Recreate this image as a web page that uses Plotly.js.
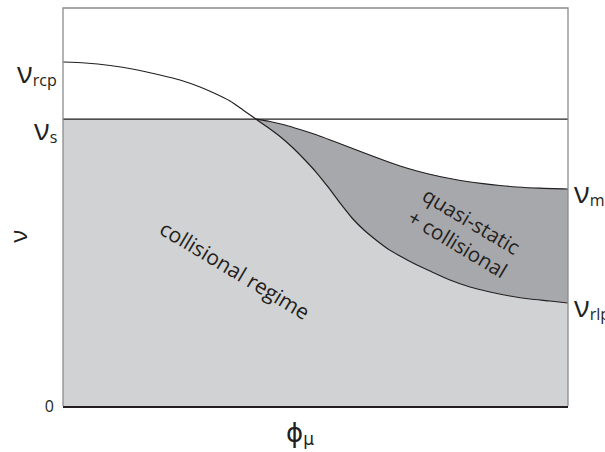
<!DOCTYPE html>
<html>
<head>
<meta charset="utf-8">
<script src="https://cdn.plot.ly/plotly-3.0.1.min.js"></script>
<style>html,body{margin:0;padding:0;background:#fff;}#chart{width:605px;height:452px;}</style>
</head>
<body>
<div id="chart"></div>
<script>
// ---- data (phi_mu in 0..100, nu in 0..100 arbitrary units) ----
const nuS = 72.1;            // nu_s level
const crossX = 38.2;         // where the upper curve meets nu_s

// curve from nu_rcp (left) down to nu_rlp (right)
const rcpX = [0, 4.36, 9.31, 14.26, 19.21, 23.17, 27.13, 30.10, 33.07, 35.64, 38.2, 40.59, 42.97, 45.35, 47.72, 50.10, 52.48, 54.85, 57.23, 59.60, 61.98, 64.36, 66.73, 69.70, 72.67, 76.63, 80.59, 84.55, 88.51, 92.48, 96.44, 100];
const rcpY = [86.43, 86.18, 85.55, 84.55, 83.17, 81.91, 80.15, 78.52, 76.63, 74.37, 72.1, 69.97, 67.71, 65.08, 62.06, 58.79, 55.03, 51.01, 47.24, 44.22, 41.71, 39.45, 37.69, 35.68, 33.92, 31.66, 29.90, 28.64, 27.64, 26.88, 26.38, 25.88];

// curve from nu_s (crossing) to nu_m (right)
const mX = [38.2, 40.99, 43.96, 46.93, 50.30, 53.47, 56.83, 60.20, 63.37, 66.73, 70.10, 73.27, 76.63, 80.00, 83.17, 86.53, 89.90, 94.46, 100];
const mY = [72.1, 71.48, 70.60, 69.47, 68.09, 66.58, 64.95, 63.32, 61.81, 60.30, 59.05, 58.04, 57.16, 56.41, 55.86, 55.40, 55.03, 54.72, 54.52];

const tickVals = [0];
const tickText = ['0'];

// ---- build derived arrays ----
const lightX = [0, crossX], lightY = [nuS, nuS];
rcpX.forEach((x, i) => { if (x > crossX) { lightX.push(x); lightY.push(rcpY[i]); } });

const darkX = mX.slice(), darkY = mY.slice();
for (let i = rcpX.length - 1; i >= 0; i--) {
  if (rcpX[i] >= crossX) { darkX.push(rcpX[i]); darkY.push(rcpY[i]); }
}

const lightGray = '#d1d2d4';
const darkGray = '#a7a8ab';
const ink = '#231f20';
const FONT = 'Open Sans, DejaVu Sans, sans-serif';

const traces = [
  {x: lightX, y: lightY, type: 'scatter', mode: 'lines', fill: 'tozeroy', fillcolor: lightGray,
   line: {width: 0}, hoverinfo: 'skip'},
  {x: darkX, y: darkY, type: 'scatter', mode: 'lines', fill: 'toself', fillcolor: darkGray,
   line: {width: 0}, hoverinfo: 'skip'},
  {x: [0, 100], y: [nuS, nuS], type: 'scatter', mode: 'lines', line: {color: ink, width: 1.2}, hoverinfo: 'skip'},
  {x: rcpX, y: rcpY, type: 'scatter', mode: 'lines', line: {color: ink, width: 1.2, shape: 'spline', smoothing: 0.6}, hoverinfo: 'skip'},
  {x: mX, y: mY, type: 'scatter', mode: 'lines', line: {color: ink, width: 1.2, shape: 'spline', smoothing: 0.6}, hoverinfo: 'skip'}
];

const nuSize = 29, subSize = 16;
function nuLabel(sub) {
  return '<span style="font-size:' + nuSize + 'px">ν</span><sub><span style="font-size:' + subSize + 'px">' + sub + '</span></sub>';
}

const annotations = [
  {xref: 'paper', yref: 'y', x: 0, y: rcpY[0], xanchor: 'right', yanchor: 'middle', xshift: -4, yshift: -9,
   text: nuLabel('rcp'), showarrow: false, font: {family: FONT, color: ink}},
  {xref: 'paper', yref: 'y', x: 0, y: nuS, xanchor: 'right', yanchor: 'middle', xshift: -4, yshift: -9,
   text: nuLabel('s'), showarrow: false, font: {family: FONT, color: ink}},
  {xref: 'paper', yref: 'y', x: 1, y: mY[mY.length - 1], xanchor: 'left', yanchor: 'middle', xshift: 4, yshift: -2,
   text: nuLabel('m'), showarrow: false, font: {family: FONT, color: ink}},
  {xref: 'paper', yref: 'y', x: 1, y: rcpY[rcpY.length - 1], xanchor: 'left', yanchor: 'middle', xshift: 4, yshift: -2,
   text: nuLabel('rlp'), showarrow: false, font: {family: FONT, color: ink}},
  {xref: 'x', yref: 'y', x: 34.1, y: 34.2, text: 'collisional regime', textangle: 31, showarrow: false,
   font: {family: FONT, size: 21, color: ink}},
  {xref: 'x', yref: 'y', x: 79.6, y: 43.6, text: 'quasi-static<br>+ collisional', textangle: 31, showarrow: false,
   font: {family: FONT, size: 20.5, color: ink}},
  // axis titles
  {xref: 'paper', yref: 'y', x: 0, y: 42.5, xanchor: 'center', yanchor: 'middle', xshift: -45,
   text: 'ν', textangle: -90, showarrow: false, font: {family: FONT, size: 24, color: ink}},
  {xref: 'paper', yref: 'paper', x: 0.47, y: 0, xanchor: 'center', yanchor: 'top', yshift: -10,
   text: '<span style="font-size:26px">ϕ</span><sub><span style="font-size:17px">μ</span></sub>', showarrow: false,
   font: {family: 'DejaVu Sans, sans-serif', color: ink}}
];

const layout = {
  width: 605, height: 452,
  margin: {l: 63, r: 37, t: 8, b: 46, pad: 0},
  paper_bgcolor: '#fff', plot_bgcolor: '#fff',
  showlegend: false,
  font: {family: FONT, color: ink},
  xaxis: {range: [0, 100], showgrid: false, zeroline: false, showticklabels: false, ticks: '',
          showline: true, linecolor: ink, linewidth: 1.5, mirror: false},
  yaxis: {range: [0, 100], showgrid: false, zeroline: false, ticks: '',
          tickvals: tickVals, ticktext: tickText, tickfont: {family: FONT, size: 16, color: ink},
          ticklabelstandoff: 8, showline: false},
  shapes: [
    {type: 'path', xref: 'paper', yref: 'paper', path: 'M0,0 L0,1 L1,1 L1,0',
     line: {color: '#8c8c8c', width: 1.3}, layer: 'above'}
  ],
  annotations: annotations
};

Plotly.newPlot('chart', traces, layout, {displayModeBar: false, staticPlot: true});
</script>
</body>
</html>
